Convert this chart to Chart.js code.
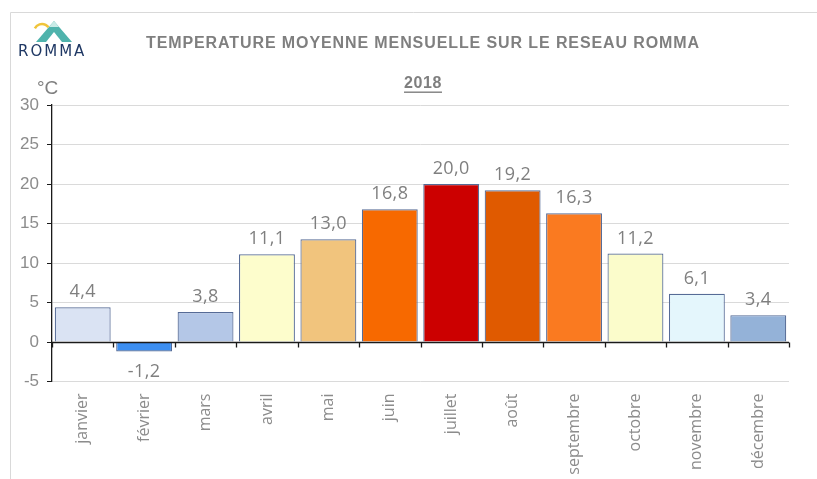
<!DOCTYPE html>
<html>
<head>
<meta charset="utf-8">
<script src="https://cdn.jsdelivr.net/npm/chart.js@4/dist/chart.umd.min.js"></script>
<style>
html,body{margin:0;padding:0;background:#fff;}
canvas{display:block;}
</style>
</head>
<body>
<canvas id="c" width="817" height="479"></canvas>
<script>
const months = ["janvier","février","mars","avril","mai","juin","juillet","août","septembre","octobre","novembre","décembre"];
const temps = [4.4, -1.2, 3.8, 11.1, 13.0, 16.8, 20.0, 19.2, 16.3, 11.2, 6.1, 3.4];
const barColors = ["#dae3f3","#3c8ef0","#b4c7e7","#fdfdcc","#f1c47d","#f76900","#cc0000","#e05a00","#fa7a20","#fbfccb","#e4f6fc","#94b2d8"];
const yTicks = [-5, 0, 5, 10, 15, 20, 25, 30];
const titleText = "TEMPERATURE MOYENNE MENSUELLE SUR LE RESEAU ROMMA";
const yearText = "2018";
const unitText = "°C";
const logoText = "ROMMA";

const fmt = v => v.toFixed(1).replace('.', ',');

const decor = {
  id: 'decor',
  beforeDraw(chart) {
    const ctx = chart.ctx;
    const hasLS = ('letterSpacing' in ctx);
    ctx.save();
    // frame
    ctx.strokeStyle = '#d9d9d9';
    ctx.lineWidth = 1;
    ctx.beginPath();
    ctx.moveTo(10.5, 479);
    ctx.lineTo(10.5, 12.5);
    ctx.lineTo(817, 12.5);
    ctx.stroke();
    // logo icon
    ctx.fillStyle = '#4fb3ac';
    ctx.beginPath();
    ctx.moveTo(54, 21); ctx.lineTo(72, 42); ctx.lineTo(36, 42); ctx.closePath();
    ctx.fill();
    ctx.fillStyle = '#c9ebe7';
    ctx.beginPath();
    ctx.moveTo(54, 21); ctx.lineTo(59, 27); ctx.lineTo(49, 27); ctx.closePath();
    ctx.fill();
    ctx.fillStyle = '#ffffff';
    ctx.beginPath();
    ctx.moveTo(54, 32); ctx.lineTo(62, 42); ctx.lineTo(46, 42); ctx.closePath();
    ctx.fill();
    ctx.strokeStyle = '#f0c43a';
    ctx.lineWidth = 2.5;
    ctx.beginPath();
    ctx.arc(42, 32, 8, Math.PI * 1.15, Math.PI * 1.8);
    ctx.stroke();
    // logo text
    ctx.fillStyle = '#1f3864';
    ctx.font = '15px "DejaVu Sans", sans-serif';
    ctx.textBaseline = 'alphabetic';
    ctx.textAlign = 'left';
    if (hasLS) ctx.letterSpacing = '2px';
    ctx.fillText(logoText, 18, 56);
    if (hasLS) ctx.letterSpacing = '0px';
    // title
    ctx.fillStyle = '#7f7f7f';
    ctx.font = 'bold 16px "Liberation Sans", Arial, sans-serif';
    ctx.textAlign = 'center';
    ctx.textBaseline = 'middle';
    if (hasLS) ctx.letterSpacing = '0.9px';
    ctx.fillText(titleText, 423, 44);
    if (hasLS) ctx.letterSpacing = '0px';
    // year
    ctx.font = 'bold 16px "Liberation Sans", Arial, sans-serif';
    if (hasLS) ctx.letterSpacing = '0.6px';
    ctx.fillText(yearText, 423, 84);
    const w = ctx.measureText(yearText).width;
    if (hasLS) ctx.letterSpacing = '0px';
    ctx.fillRect(423 - w / 2, 91.5, w, 1.4);
    // unit
    ctx.font = '19px "Liberation Sans", Arial, sans-serif';
    ctx.textAlign = 'left';
    ctx.fillText(unitText, 37, 89);
    ctx.restore();
  },
  afterDatasetsDraw(chart) {
    const ctx = chart.ctx;
    const xs = chart.scales.x, ys = chart.scales.y;
    const y0 = Math.round(ys.getPixelForValue(0)) + 0.5;
    ctx.save();
    // zero line with tick marks
    ctx.strokeStyle = '#1a1a1a';
    ctx.lineWidth = 1.3;
    ctx.beginPath();
    ctx.moveTo(chart.chartArea.left, y0);
    ctx.lineTo(chart.chartArea.right, y0);
    const half = (xs.getPixelForValue(1) - xs.getPixelForValue(0)) / 2;
    for (let i = 0; i <= months.length; i++) {
      const x = Math.round(xs.getPixelForValue(i) - half) + 0.5;
      ctx.moveTo(x, y0);
      ctx.lineTo(x, y0 + 5);
    }
    ctx.stroke();
    // data labels
    ctx.fillStyle = '#7f7f7f';
    ctx.font = '18px "Open Sans", sans-serif';
    ctx.textAlign = 'center';
    ctx.textBaseline = 'alphabetic';
    if ('letterSpacing' in ctx) ctx.letterSpacing = '0.4px';
    const meta = chart.getDatasetMeta(0);
    meta.data.forEach((el, i) => {
      const v = temps[i];
      if (v >= 0) ctx.fillText(fmt(v), el.x, el.y - 10);
      else ctx.fillText(fmt(v), el.x, el.y + 26);
    });
    ctx.restore();
  }
};

new Chart(document.getElementById('c'), {
  type: 'bar',
  data: {
    labels: months,
    datasets: [{
      data: temps,
      backgroundColor: barColors,
      borderColor: '#566b96',
      borderWidth: 1.2,
      barPercentage: 0.91,
      categoryPercentage: 1.0
    }]
  },
  options: {
    responsive: false,
    animation: false,
    events: [],
    layout: { padding: { left: 0, right: 28, top: 105, bottom: 0 } },
    plugins: { legend: { display: false }, tooltip: { enabled: false }, title: { display: false } },
    scales: {
      x: {
        position: 'bottom',
        grid: { display: false, drawTicks: false },
        border: { display: false },
        ticks: {
          minRotation: 90, maxRotation: 90, autoSkip: false,
          color: '#8c8c8c',
          font: { family: '"Open Sans", sans-serif', size: 16 },
          padding: 12
        },
        afterFit(s) { s.height = 97.5; }
      },
      y: {
        min: -5, max: 30,
        afterBuildTicks(s) { s.ticks = yTicks.map(v => ({ value: v })); },
        grid: { color: '#dadada', tickColor: '#1a1a1a', tickLength: 5, lineWidth: 1 },
        border: { display: true, color: '#1a1a1a', width: 1.3 },
        ticks: {
          color: '#8c8c8c',
          font: { family: '"Liberation Sans", Arial, sans-serif', size: 17 },
          padding: 8,
          callback: v => String(v)
        },
        afterFit(s) { s.width = 52; }
      }
    }
  },
  plugins: [decor]
});
</script>
</body>
</html>
